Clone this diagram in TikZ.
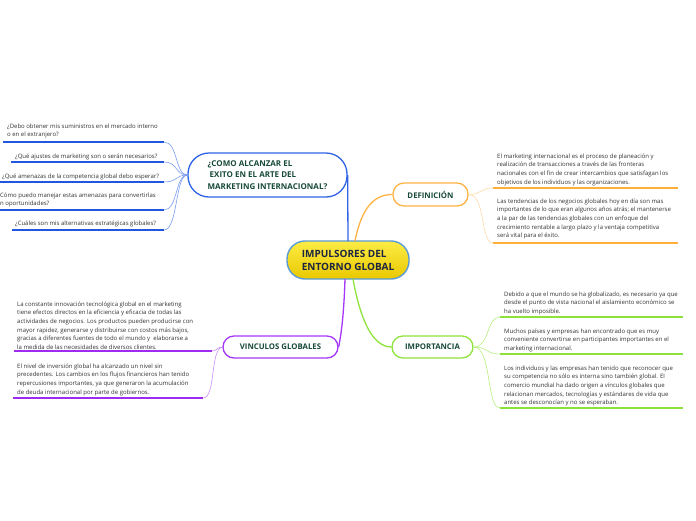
\documentclass[tikz,border=0pt]{standalone}
\usepackage{fontspec}
\setmainfont{Open Sans}
\definecolor{nodetext}{HTML}{174A37}
\definecolor{centtext}{HTML}{1C2541}
\definecolor{subtext}{HTML}{333333}
\definecolor{cborder}{HTML}{5B9BD5}
\definecolor{cyelT}{HTML}{FCEC45}
\definecolor{cyelB}{HTML}{E9C800}
\definecolor{bluemain}{HTML}{2F63E6}
\definecolor{blueline}{HTML}{2356E0}
\definecolor{bluethin}{HTML}{7C9CF0}
\definecolor{orgmain}{HTML}{FFB347}
\definecolor{orgline}{HTML}{FFB03A}
\definecolor{orgthin}{HTML}{FFD9A8}
\definecolor{grnmain}{HTML}{8FE33A}
\definecolor{grnline}{HTML}{8EE03A}
\definecolor{grnthin}{HTML}{B8EF80}
\definecolor{purmain}{HTML}{A537FD}
\definecolor{purline}{HTML}{9D2CF0}
\definecolor{purthin}{HTML}{C890F8}
\tikzset{
  topic/.style={draw, line width=1.3pt, fill=white, rounded corners=11pt, inner sep=0pt,
    text=nodetext, font=\fontsize{7.8}{9}\selectfont\bfseries, align=center},
  subitem/.style={anchor=north west, inner sep=0pt, align=left, text=subtext,
    font=\fontsize{6}{8.6}\selectfont, yshift=-1.5pt},
  uline/.style={line width=1.5pt},
  thinconn/.style={line width=0.6pt},
  mainconn/.style={line width=1.3pt}
}
\begin{document}
\begin{tikzpicture}[x=1pt,y=-1pt]
\useasboundingbox[fill=white] (0,0) rectangle (696,520);

% central node
\node[draw=cborder, line width=1.4pt, top color=cyelT, bottom color=cyelB,
  rounded corners=18pt, minimum width=122pt, minimum height=38pt, inner sep=0pt,
  text=centtext, font=\fontsize{10}{13}\selectfont\bfseries, align=left] (C) at (348,260)
  {IMPULSORES DEL\\ENTORNO GLOBAL};

% topic nodes
\node[topic, draw=bluemain, rounded corners=21pt, minimum width=159pt, minimum height=44pt,
  font=\fontsize{8}{11.6}\selectfont\bfseries, align=left] (Q) at (267.5,175)
  {¿COMO ALCANZAR EL\\\ EXITO EN EL ARTE DEL\\MARKETING INTERNACIONAL?};
\node[topic, draw=orgmain, minimum width=75pt, minimum height=23pt] (D) at (430.5,194.5) {DEFINICIÓN};
\node[topic, draw=grnmain, minimum width=81pt, minimum height=22pt] (I) at (432.5,347) {IMPORTANCIA};
\node[topic, draw=purmain, minimum width=115pt, minimum height=22pt] (V) at (280.5,347) {VINCULOS GLOBALES};

% main connectors
\coordinate (cq) at (348,241);
\coordinate (cd) at (355,241);
\coordinate (ci) at (353,279);
\coordinate (cv) at (345,279);
\draw[mainconn, bluemain] (cq) -- (Q.east);
\draw[mainconn, orgmain] (cd) .. controls (362,206) and (375,194.5) .. (D.west);
\draw[mainconn, grnmain] (ci) .. controls (360,318) and (372,347) .. (I.west);
\draw[mainconn, purmain] (cv) .. controls (344,310) and (342,330) .. (V.east);

% ---- question items (blue)
\node[subitem] (q1) at (7,120.5) {\strut¿Debo obtener mis suministros en el mercado interno\\o en el extranjero?};
\node[subitem] (q2) at (15,150.5) {\strut¿Qué ajustes de marketing son o serán necesarios?};
\node[subitem] (q3) at (2,170.5) {\strut¿Qué amenazas de la competencia global debo esperar?};
\node[subitem] (q4) at (0,189.5) {\strut Cómo puedo manejar estas amenazas para convertirlas\\n oportunidades?};
\node[subitem] (q5) at (15,217.5) {\strut¿Cuáles son mis alternativas estratégicas globales?};
\coordinate (q1a) at (3,142);  \coordinate (q1b) at (164,142);
\coordinate (q2a) at (11,162); \coordinate (q2b) at (164,162);
\coordinate (q3a) at (0,182);  \coordinate (q3b) at (164,182);
\coordinate (q4a) at (0,210);  \coordinate (q4b) at (164,210);
\coordinate (q5a) at (12,230); \coordinate (q5b) at (164,230);
\foreach \i in {1,...,5}{
  \draw[uline, blueline] (q\i a) -- (q\i b);
}
\draw[thinconn, bluethin] (q1b) .. controls (178,142) and (175,175) .. (Q.west);
\draw[thinconn, bluethin] (q2b) .. controls (178,162) and (175,175) .. (Q.west);
\draw[thinconn, bluethin] (q3b) .. controls (178,182) and (175,175) .. (Q.west);
\draw[thinconn, bluethin] (q4b) .. controls (178,210) and (175,175) .. (Q.west);
\draw[thinconn, bluethin] (q5b) .. controls (178,230) and (175,175) .. (Q.west);

% ---- definition items (orange)
\node[subitem] (d1) at (497,150.5) {\strut El marketing internacional es el proceso de planeación y\\realización de transacciones a través de las fronteras\\nacionales con el fin de crear intercambios que satisfagan los\\objetivos de los individuos y las organizaciones.};
\node[subitem] (d2) at (497,195.5) {\strut Las tendencias de los negocios globales hoy en día son mas\\importantes de lo que eran algunos años atrás; el mantenerse\\a la par de las tendencias globales con un enfoque del\\crecimiento rentable a largo plazo y la ventaja competitiva\\será vital para el éxito.};
\coordinate (d1a) at (493,188); \coordinate (d1b) at (678,188);
\coordinate (d2a) at (493,243); \coordinate (d2b) at (678,243);
\draw[uline, orgline, line width=2pt] (d1a) -- (d1b);
\draw[uline, orgline, line width=2pt] (d2a) -- (d2b);
\draw[thinconn, orgthin] (D.east) .. controls (482,194.5) and (480,188) .. (d1a);
\draw[thinconn, orgthin] (D.east) .. controls (486,194.5) and (480,243) .. (d2a);

% ---- importance items (green)
\node[subitem] (i1) at (504,288.5) {\strut Debido a que el mundo se ha globalizado, es necesario ya que\\desde el punto de vista nacional el aislamiento económico se\\ha vuelto imposible.};
\node[subitem] (i2) at (504,325.5) {\strut Muchos países y empresas han encontrado que es muy\\conveniente convertirse en participantes importantes en el\\marketing internacional.};
\node[subitem] (i3) at (504,362.5) {\strut Los individuos y las empresas han tenido que reconocer que\\su competencia no sólo es interna sino también global. El\\comercio mundial ha dado origen a vínculos globales que\\relacionan mercados, tecnologías y estándares de vida que\\antes se desconocían y no se esperaban.};
\coordinate (i1a) at (500,317); \coordinate (i1b) at (683,317);
\coordinate (i2a) at (500,354); \coordinate (i2b) at (683,354);
\coordinate (i3a) at (500,408); \coordinate (i3b) at (683,408);
\foreach \i in {1,2,3}{
  \draw[uline, grnline] (i\i a) -- (i\i b);
}
\draw[thinconn, grnthin] (I.east) .. controls (490,347) and (486,317) .. (i1a);
\draw[thinconn, grnthin] (I.east) .. controls (488,347) and (486,354) .. (i2a);
\draw[thinconn, grnthin] (I.east) .. controls (492,347) and (486,408) .. (i3a);

% ---- vinculos items (purple)
\node[subitem] (v1) at (17,298.5) {\strut La constante innovación tecnológica global en el marketing\\tiene efectos directos en la eficiencia y eficacia de todas las\\actividades de negocios. Los productos pueden producirse con\\mayor rapidez, generarse y distribuirse con costos más bajos,\\gracias a diferentes fuentes de todo el mundo y \ elaborarse a\\la medida de las necesidades de diversos clientes.};
\node[subitem] (v2) at (17,360.5) {\strut El nivel de inversión global ha alcanzado un nivel sin\\precedentes. Los cambios en los flujos financieros han tenido\\repercusiones importantes, ya que generaron la acumulación\\de deuda internacional por parte de gobiernos.};
\coordinate (v1a) at (14,351); \coordinate (v1b) at (212,351);
\coordinate (v2a) at (13,398); \coordinate (v2b) at (203,398);
\draw[uline, purline] (v1a) -- (v1b);
\draw[uline, purline] (v2a) -- (v2b);
\draw[thinconn, purthin] (V.west) .. controls (216,347) and (218,351) .. (v1b);
\draw[thinconn, purthin] (V.west) .. controls (210,349) and (216,398) .. (v2b);
\end{tikzpicture}
\end{document}
